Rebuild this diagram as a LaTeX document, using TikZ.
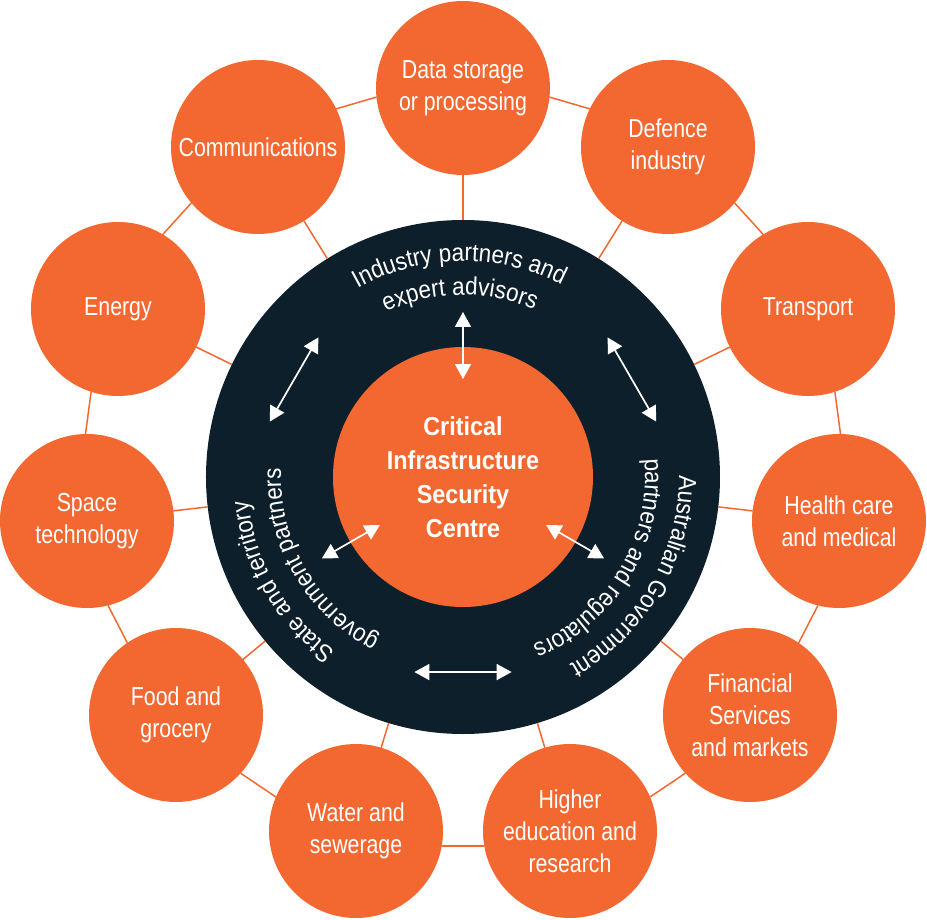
\documentclass[tikz,border=0pt]{standalone}
\usepackage{fontspec}
\setmainfont{Liberation Sans}
\newfontfamily\narrowfont{Liberation Sans}[FakeStretch=0.82]
\newfontfamily\ringfont{Liberation Sans}[FakeStretch=0.9]
\usetikzlibrary{arrows.meta,decorations.text}
\definecolor{ciscorange}{RGB}{242,104,48}
\definecolor{ciscnavy}{RGB}{13,31,43}
\newcommand{\ringtext}{\ringfont\fontsize{25}{30}\selectfont\color{white}}
\tikzset{
  bubble/.style={circle,fill=ciscorange,minimum size=174,inner sep=0pt,outer sep=0pt,
    text=white,align=center,font=\narrowfont\fontsize{26}{32}\selectfont},
  link/.style={ciscorange,line width=1.5pt},
  twoway/.style={{Triangle[length=15pt,width=16pt]}-{Triangle[length=15pt,width=16pt]},
    white,line width=1.7pt},
  arclabel/.style={decorate,decoration={text along path,text align=center,text={|\ringtext|#1}}}
}
\begin{document}
\begin{tikzpicture}[x=1pt,y=1pt]
  \useasboundingbox (-463,-442) rectangle (464,477);
  % partner ring and centre
  \node[circle,fill=ciscnavy,minimum size=514,inner sep=0pt,outer sep=0pt] (ring) at (0,0) {};
  \node[circle,fill=ciscorange,minimum size=260,inner sep=0pt,outer sep=0pt,text=white,align=center,
    font=\ringfont\bfseries\fontsize{26}{34}\selectfont] (cisc) at (0,0)
    {Critical\\Infrastructure\\Security\\Centre};
  % sectors
  \node[bubble] (data)      at (0,389)     {Data storage\\or processing};
  \node[bubble] (comm)      at (-205,330)  {Communications};
  \node[bubble] (defence)   at (205,330)   {Defence\\industry};
  \node[bubble] (energy)    at (-345,168)  {Energy};
  \node[bubble] (transport) at (345,168)   {Transport};
  \node[bubble] (space)     at (-376,-44)  {Space\\technology};
  \node[bubble] (health)    at (376,-44)   {Health care\\and medical};
  \node[bubble] (food)      at (-287,-238) {Food and\\grocery};
  \node[bubble] (finance)   at (287,-238)  {Financial\\Services\\and markets};
  \node[bubble] (water)     at (-107,-354) {Water and\\sewerage};
  \node[bubble] (higher)    at (107,-354)  {Higher\\education and\\research};
  % spokes and outer ring
  \foreach \s in {data,comm,defence,energy,transport,space,health,food,finance,water,higher}
    \draw[link] (ring) -- (\s);
  \foreach \a/\b in {data.186/comm.26,data.-6/defence.154,comm.-140/energy.59,
      defence.-40/transport.121,energy.-108/space.91,transport.-72/health.89,
      space.-76/food.124,health.-104/finance.56,food.-42/water.157,
      finance.-138/higher.23,water.-10/higher.190}
    \draw[link] (\a) -- (\b);
  % captions on the ring
  \path[arclabel={Industry partners and}] (151:216) arc[start angle=151,end angle=31,radius=216];
  \path[arclabel={expert advisors}] (151:182) arc[start angle=151,end angle=31,radius=182];
  \path[arclabel={Australian Government}] (30:216) arc[start angle=30,end angle=-90,radius=216];
  \path[arclabel={partners and regulators}] (29:182) arc[start angle=29,end angle=-91,radius=182];
  \path[arclabel={State and territory}] (270:216) arc[start angle=270,end angle=150,radius=216];
  \path[arclabel={government partners}] (270:182) arc[start angle=270,end angle=150,radius=182];
  % arrows
  \coordinate (n1) at (90:165);   \coordinate (n2) at (90:98);
  \coordinate (nw1) at (164:201); \coordinate (nw2) at (136:201);
  \coordinate (ne1) at (44:201);  \coordinate (ne2) at (16:201);
  \coordinate (sw1) at (210:163); \coordinate (sw2) at (210:96);
  \coordinate (se1) at (-30:96);  \coordinate (se2) at (-30:163);
  \coordinate (s1) at (256:201);  \coordinate (s2) at (284:201);
  \draw[twoway] (n1) -- (n2);
  \draw[twoway] (nw1) -- (nw2);
  \draw[twoway] (ne1) -- (ne2);
  \draw[twoway] (sw1) -- (sw2);
  \draw[twoway] (se1) -- (se2);
  \draw[twoway] (s1) -- (s2);
\end{tikzpicture}
\end{document}
